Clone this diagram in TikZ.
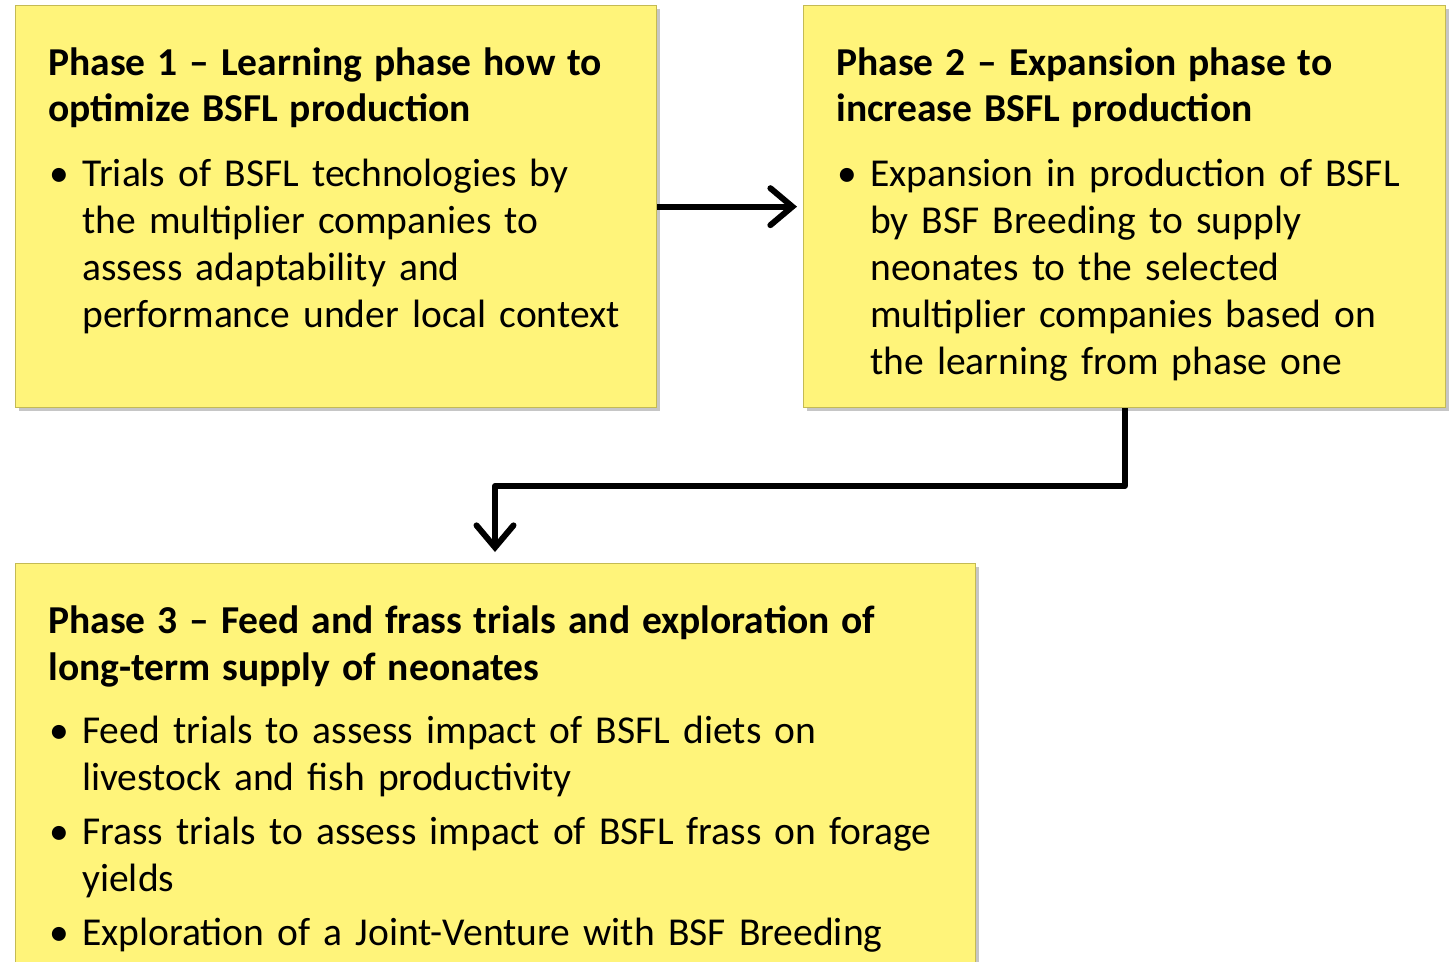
\documentclass[tikz,border=0pt]{standalone}
\usepackage{fontspec}
\setmainfont{Carlito}[WordSpace=0.85]
\usetikzlibrary{arrows.meta,shadows}

\definecolor{phasefill}{RGB}{255,244,122}
\definecolor{phaseedge}{RGB}{196,186,84}

% bullet line with hanging indent
\newcommand{\bitem}{\par\hangindent=0.68cm\hangafter=1\noindent
  \makebox[0.68cm][l]{\hspace{0.02cm}\textbullet}}
\newcommand{\phasefont}{\fontsize{22.5}{26.67}\selectfont}
\newcommand{\phasehead}[1]{{\bfseries\spaceskip=0.3em\relax #1\par}}

\begin{document}
\begin{tikzpicture}[x=0.02cm, y=-0.02cm,
  phasebox/.style={rectangle, draw=phaseedge, line width=0.8pt,
    fill=phasefill, anchor=north west, inner sep=0pt,
    drop shadow={shadow xshift=0.07cm, shadow yshift=-0.07cm,
      fill=black!50, opacity=0.45}},
  phasetext/.style={anchor=north west, inner sep=0pt, align=left,
    text width=#1, font=\phasefont},
  flow/.style={line width=3.4pt, line join=round,
    -{Straight Barb[length=0.44cm, width=0.74cm, line cap=round]}}]

\useasboundingbox (0,0) rectangle (1455,961);
\clip (0,0) rectangle (1455,961);

% the three phases
\node[phasebox, minimum width=12.82cm, minimum height=8.04cm]
  (p1box) at (15,5) {};
\node[phasebox, minimum width=12.84cm, minimum height=8.04cm]
  (p2box) at (803,5) {};
\node[phasebox, minimum width=19.2cm, minimum height=9cm]
  (p3box) at (15,563) {};

\node[phasetext=12.5cm] (p1text) at (48,47) {%
  \phasehead{Phase 1 -- Learning phase how to\newline optimize BSFL production}
  \vspace{0.36cm}
  \bitem Trials of BSFL technologies by\newline the multiplier companies to\newline
    assess adaptability and\newline performance under local context\par};

\node[phasetext=12.5cm] (p2text) at (836,47) {%
  \phasehead{Phase 2 -- Expansion phase to\newline increase BSFL production}
  \vspace{0.36cm}
  \bitem Expansion in production of BSFL\newline by BSF Breeding to supply\newline
    neonates to the selected\newline multiplier companies based on\newline
    the learning from phase one\par};

\node[phasetext=18.5cm] (p3text) at (48,605) {%
  \phasehead{Phase 3 -- Feed and frass trials and exploration of\newline
    long-term supply of neonates}
  \vspace{0.34cm}
  \bitem Feed trials to assess impact of BSFL diets on\newline
    livestock and fish productivity\par
  \vspace{0.14cm}
  \bitem Frass trials to assess impact of BSFL frass on forage\newline yields\par
  \vspace{0.14cm}
  \bitem Exploration of a Joint-Venture with BSF Breeding\par};

% connectors
\coordinate (drop) at (495,486);
\draw[flow, shorten >=0.12cm] (p1box) -- (p2box);
\draw[flow, shorten >=0.22cm] (p2box.south) |- (drop) -- (drop |- p3box.north);

\end{tikzpicture}
\end{document}
